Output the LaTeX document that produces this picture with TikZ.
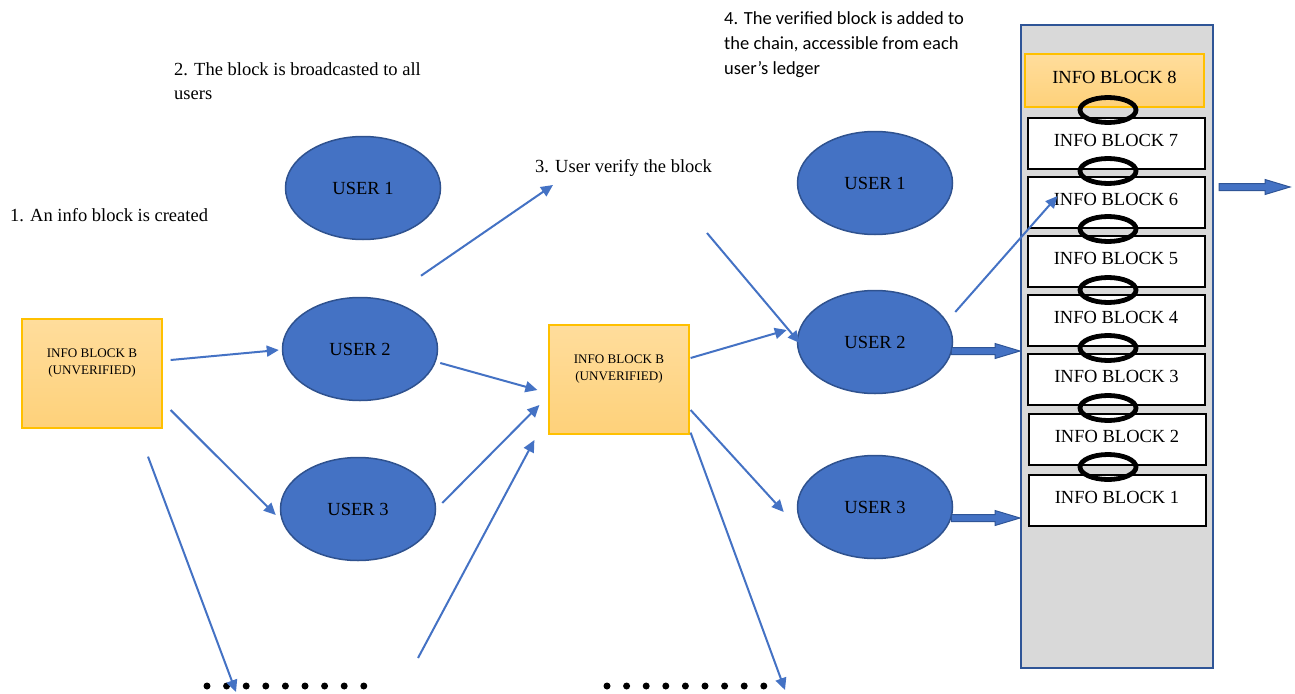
\documentclass[tikz,border=0pt]{standalone}
\usepackage{fontspec}
\setmainfont{Liberation Serif}
\newfontfamily\calib{Carlito}
\usetikzlibrary{arrows.meta,shapes.geometric,calc}
\definecolor{ublue}{HTML}{4472C4}
\definecolor{udark}{HTML}{2F528F}
\definecolor{orTop}{HTML}{FFDD9C}
\definecolor{orBot}{HTML}{FED17A}
\definecolor{gold}{HTML}{FFC000}
\definecolor{panelgray}{HTML}{D9D9D9}
\definecolor{panelblue}{HTML}{2F5597}
\newcommand\liftup[2]{\raisebox{#1}[\height][\depth]{#2}}
\newcommand\fatarrow[2]{%
  \path[blockarrow] ($(#1)+(0,-3.5)$) -- ($(#2)+(-25,-3.5)$) -- ($(#2)+(-25,-7.5)$) -- (#2)
    -- ($(#2)+(-25,7.5)$) -- ($(#2)+(-25,3.5)$) -- ($(#1)+(0,3.5)$) -- cycle;}
\begin{document}
\begin{tikzpicture}[x=1pt,y=-1pt,
  user/.style={ellipse, draw=udark, line width=1.5pt, fill=ublue, minimum width=155pt,
    minimum height=103pt, inner sep=0pt, font=\fontsize{18.5}{22}\selectfont},
  pending/.style={rectangle, draw=gold, line width=1.2pt, top color=orTop, bottom color=orBot,
    minimum width=140pt, minimum height=109pt, inner sep=0pt, align=center,
    font=\fontsize{13.1}{17}\selectfont},
  chainblk/.style={rectangle, draw=black, line width=2pt, fill=white, minimum width=177pt,
    minimum height=51pt, inner sep=0pt, font=\fontsize{18.5}{22}\selectfont},
  newblk/.style={rectangle, draw=gold, line width=1.2pt, top color=orTop, bottom color=orBot,
    minimum width=179pt, minimum height=53pt, inner sep=0pt, font=\fontsize{18.5}{22}\selectfont},
  link/.style={ellipse, draw=black, line width=4.8pt, minimum width=56pt, minimum height=25pt, inner sep=0pt},
  arr/.style={draw=ublue, line width=2pt, -{Triangle[length=12pt,width=11pt]}},
  caption/.style={inner sep=0pt, align=left, font=\fontsize{18.5}{24}\selectfont},
  dot/.style={circle, fill=black, inner sep=0pt, minimum size=7pt},
  blockarrow/.style={draw=panelblue, fill=ublue, line width=1pt, line join=miter}
]
\useasboundingbox (0,0) rectangle (1295,693);

% captions
\node[caption, anchor=base west] (s1) at (10,221) {1. An info block is created};
\node[caption, anchor=north west] (s2) at (174,62) {2. The block is broadcasted to all\\users};
\node[caption, anchor=base west] (s3) at (535,172) {3. User verify the block};
\node[caption, anchor=north west, font=\calib\fontsize{18.5}{25}\selectfont] (s4) at (724,11)
  {4. The verified block is added to\\the chain, accessible from each\\user’s ledger};

% pending blocks
\node[pending] (lb) at (92,373.5) {\liftup{10pt}{INFO BLOCK B}\\\liftup{10pt}{(UNVERIFIED)}};
\node[pending] (mb) at (619,379.5) {\liftup{10pt}{INFO BLOCK B}\\\liftup{10pt}{(UNVERIFIED)}};

% users
\node[user] (u1l) at (363,188) {USER 1};
\node[user] (u2l) at (360,349) {USER 2};
\node[user] (u3l) at (358,509) {USER 3};
\node[user] (u1r) at (875,183) {USER 1};
\node[user] (u2r) at (875,342) {USER 2};
\node[user] (u3r) at (875,507) {USER 3};

% chain panel
\node[draw=panelblue, fill=panelgray, line width=2pt, minimum width=192pt, minimum height=643pt,
  inner sep=0pt] (panel) at (1117,346.5) {};
\node[newblk] (b8) at (1114.5,80.5) {\liftup{3pt}{INFO BLOCK 8}};
\node[chainblk] (b7) at (1116,143) {\liftup{3pt}{INFO BLOCK 7}};
\node[chainblk] (b6) at (1116,202) {\liftup{3pt}{INFO BLOCK 6}};
\node[chainblk] (b5) at (1116,261.5) {\liftup{3pt}{INFO BLOCK 5}};
\node[chainblk] (b4) at (1116,320.5) {\liftup{3pt}{INFO BLOCK 4}};
\node[chainblk] (b3) at (1116.5,379.5) {\liftup{3pt}{INFO BLOCK 3}};
\node[chainblk] (b2) at (1117,439) {\liftup{3pt}{INFO BLOCK 2}};
\node[chainblk] (b1) at (1117,500) {\liftup{3pt}{INFO BLOCK 1}};
\foreach \y/\n in {110/7, 171/6, 229/5, 290/4, 348/3, 408/2, 467/1}
  \node[link] (l\n) at (1108,\y) {};

% dots
\foreach \i in {0,...,8} {
  \node[dot] (dl\i) at ({207+19.6*\i},686) {};
  \node[dot] (dr\i) at ({607+19.6*\i},686) {};
}

% free ends
\coordinate (downl) at (236,692);
\coordinate (upfrom) at (418,658);
\coordinate (downr) at (785,690);
\coordinate (fromtop) at (707,233);
\coordinate (outend) at (1290,187);

% thin arrows
\draw[arr] ($(lb.east)+(8,-13.5)$) -- ($(u2l.west)+(-3,1)$);
\draw[arr] ($(lb.east)+(8,36.5)$) -- ($(u3l.west)+(-4,6)$);
\draw[arr] ($(lb.south)+(56,28)$) -- (downl);
\draw[arr] ($(u2l.east)+(2,14)$) -- ($(mb.west)+(-11,10.5)$);
\draw[arr] ($(u3l.east)+(6,-6)$) -- ($(mb.west)+(-9,25.5)$);
\draw[arr] (upfrom) -- ($(mb.west)+(-14,60.5)$);
\draw[arr] ($(u2l.north)+(61,-21)$) -- ($(s3.base west)+(18,13)$);
\draw[arr] ($(mb.east)+(1,-21.5)$) -- ($(u2r.west)+(-10,-12)$);
\draw[arr] ($(mb.east)+(1,30.5)$) -- ($(u3r.west)+(-13,5)$);
\draw[arr] ($(mb.south east)+(1,-2)$) -- (downr);
\draw[arr] (fromtop) -- ($(u2r.west)+(3,1)$);
\draw[arr] ($(u2r.east)+(2,-30)$) -- ($(b6.west)+(31,-6)$);

% block arrows
\coordinate (fa1s) at ($(u2r.east)+(-2,9)$);
\coordinate (fa2s) at ($(u3r.east)+(-2,11)$);
\coordinate (fa3s) at ($(panel.east)+(5,-159.5)$);
\fatarrow{fa1s}{fa1s -| panel.west}
\fatarrow{fa2s}{fa2s -| panel.west}
\fatarrow{fa3s}{outend}
\end{tikzpicture}
\end{document}
